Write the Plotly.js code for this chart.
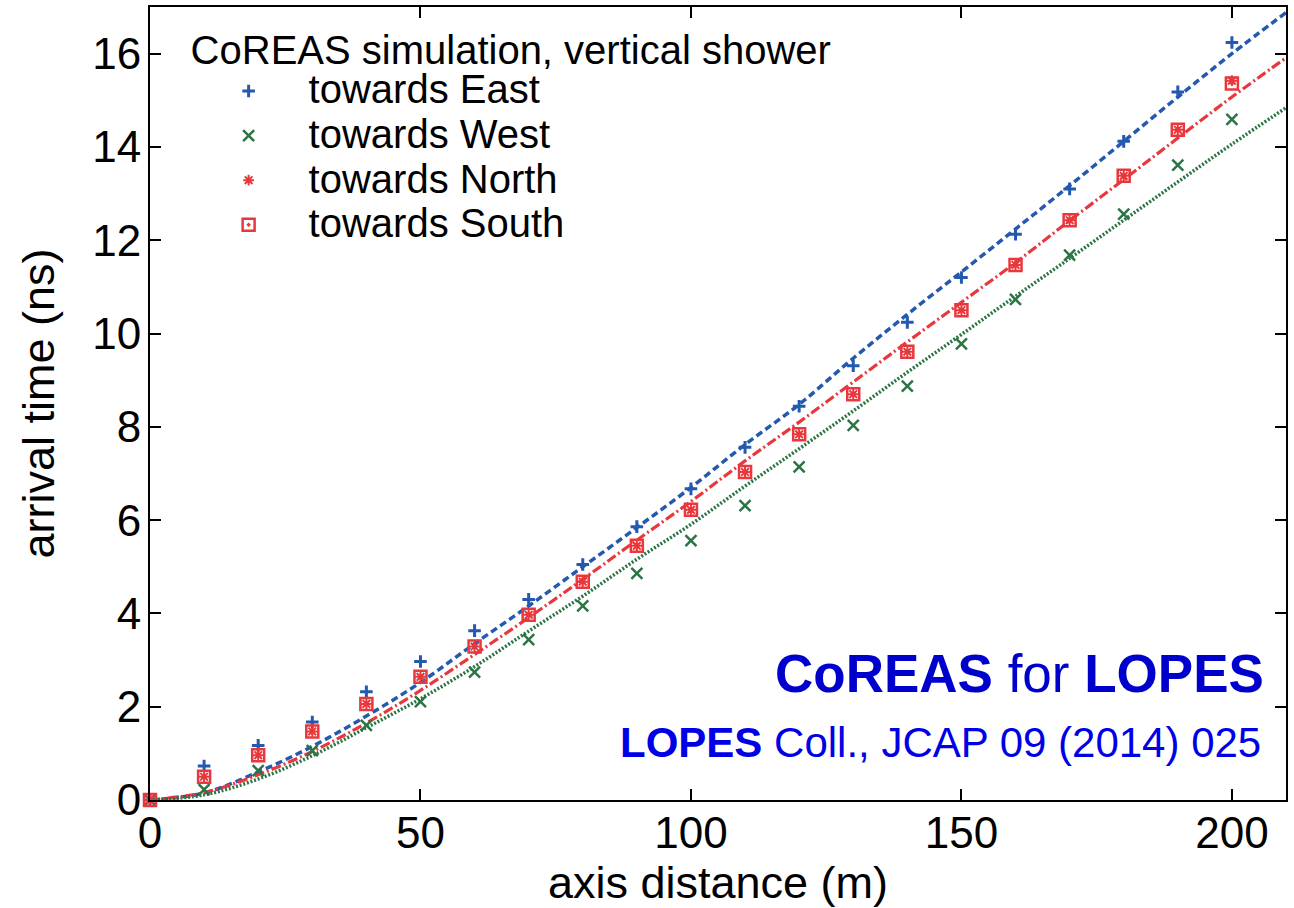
<!DOCTYPE html>
<html>
<head>
<meta charset="utf-8">
<script src="https://cdn.plot.ly/plotly-3.0.1.min.js"></script>
<style>
  html, body { margin: 0; padding: 0; background: #ffffff; }
  #chart { width: 1294px; height: 908px; }
</style>
</head>
<body>
<div id="chart"></div>
<script>
// ---- data ----
const distances = [0, 10, 20, 30, 40, 50, 60, 70, 80, 90, 100, 110, 120, 130, 140, 150, 160, 170, 180, 190, 200];

const eastTimes  = [0, 0.73, 1.17, 1.67, 2.32, 2.97, 3.63, 4.30, 5.05, 5.86, 6.67, 7.56, 8.44, 9.31, 10.24, 11.20, 12.13, 13.10, 14.12, 15.18, 16.24];
const westTimes  = [0, 0.22, 0.63, 1.06, 1.60, 2.11, 2.74, 3.44, 4.16, 4.86, 5.56, 6.31, 7.14, 8.03, 8.87, 9.78, 10.73, 11.68, 12.56, 13.61, 14.59];
const northTimes = [0, 0.50, 0.96, 1.47, 2.06, 2.64, 3.29, 3.97, 4.68, 5.45, 6.22, 7.03, 7.84, 8.70, 9.61, 10.50, 11.47, 12.43, 13.38, 14.37, 15.42];
const southTimes = [0, 0.50, 0.96, 1.47, 2.06, 2.64, 3.29, 3.97, 4.68, 5.45, 6.22, 7.03, 7.84, 8.70, 9.61, 10.50, 11.47, 12.43, 13.38, 14.37, 15.36];

// fitted curves
const fitDistances = [0, 10, 20, 30, 40, 50, 60, 70, 80, 90, 100, 110, 120, 130, 140, 150, 160, 170, 180, 190, 200, 210];
const eastFit  = [0, 0.15, 0.60, 1.15, 1.80, 2.52, 3.35, 4.16, 5.00, 5.84, 6.70, 7.62, 8.48, 9.47, 10.41, 11.32, 12.24, 13.17, 14.12, 15.07, 16.00, 16.88];
const nsFit    = [0, 0.16, 0.54, 1.04, 1.65, 2.35, 3.12, 3.91, 4.73, 5.57, 6.40, 7.27, 8.10, 8.96, 9.82, 10.67, 11.52, 12.42, 13.30, 14.19, 15.07, 15.91];
const westFit  = [0, 0.11, 0.45, 0.95, 1.55, 2.17, 2.86, 3.62, 4.37, 5.16, 5.91, 6.73, 7.53, 8.34, 9.17, 9.98, 10.80, 11.61, 12.43, 13.25, 14.06, 14.84];

const seriesNames = ['towards East', 'towards West', 'towards North', 'towards South'];
const legendTitle = 'CoREAS simulation, vertical shower';
const xTicks = [0, 50, 100, 150, 200];
const yTicks = [0, 2, 4, 6, 8, 10, 12, 14, 16];

// ---- styles ----
const BLUE = '#2459b0';
const GREEN = '#2b7443';
const RED = '#e8383d';
const FONT = 'Liberation Sans, Arial, Helvetica, sans-serif';
const big = s => '<span style="font-size:40px">' + s + '</span>';

const traces = [
  { x: fitDistances, y: eastFit, mode: 'lines', showlegend: false, hoverinfo: 'skip',
    line: { color: BLUE, width: 3.5, dash: '7px,4px', shape: 'spline' } },
  { x: fitDistances, y: nsFit, mode: 'lines', showlegend: false, hoverinfo: 'skip',
    line: { color: RED, width: 3.2, dash: '10px,3px,2px,3px', shape: 'spline' } },
  { x: fitDistances, y: westFit, mode: 'lines', showlegend: false, hoverinfo: 'skip',
    line: { color: GREEN, width: 3.5, dash: '2px,1.8px', shape: 'spline' } },

  { x: distances, y: eastTimes, mode: 'markers', name: big(seriesNames[0]), cliponaxis: false,
    marker: { symbol: 'cross-thin-open', size: 9, color: BLUE, line: { color: BLUE, width: 3 } } },
  { x: distances, y: westTimes, mode: 'markers', name: big(seriesNames[1]), cliponaxis: false,
    marker: { symbol: 'x-thin-open', size: 11, color: GREEN, line: { color: GREEN, width: 2.5 } } },
  { x: distances, y: northTimes, mode: 'markers', name: big(seriesNames[2]), cliponaxis: false,
    marker: { symbol: 'asterisk-open', size: 9, color: RED, line: { color: RED, width: 2 } } },
  { x: distances, y: southTimes, mode: 'markers', name: big(seriesNames[3]), cliponaxis: false,
    marker: { symbol: 'square-open-dot', size: 12, color: RED, line: { color: RED, width: 2.5 } } }
];

const axisCommon = {
  showline: true, linecolor: '#000', linewidth: 2, mirror: 'ticks',
  ticks: 'inside', ticklen: 11, tickwidth: 2, tickcolor: '#000',
  showgrid: false, zeroline: false,
  tickfont: { family: FONT, size: 44, color: '#000' }
};

const layout = {
  width: 1294, height: 908,
  margin: { l: 150, r: 8, t: 7, b: 108 },
  paper_bgcolor: '#fff', plot_bgcolor: '#fff',
  font: { family: FONT, color: '#000' },
  xaxis: Object.assign({}, axisCommon, {
    range: [0, 210], tickmode: 'array', tickvals: xTicks, ticktext: xTicks.map(String),
    ticklabelstandoff: -7,
    title: { text: 'axis distance (m)', font: { family: FONT, size: 45, color: '#000' }, standoff: 14 }
  }),
  yaxis: Object.assign({}, axisCommon, {
    range: [0, 17], tickmode: 'array', tickvals: yTicks, ticktext: yTicks.map(String),
    ticklabelstandoff: -2,
    title: { text: 'arrival time (ns)', font: { family: FONT, size: 45, color: '#000' }, standoff: 23 }
  }),
  legend: {
    x: 0.034, y: 0.981, xanchor: 'left', yanchor: 'top',
    bgcolor: 'rgba(0,0,0,0)', borderwidth: 0,
    font: { family: FONT, size: 32, color: '#000' },
    itemwidth: 110,
    title: { text: big(legendTitle), font: { family: FONT, size: 32, color: '#000' } },
    traceorder: 'normal'
  },
  annotations: [
    { xref: 'paper', yref: 'paper', x: 0.982, y: 0.16, xanchor: 'right', yanchor: 'middle',
      showarrow: false, text: '<b>CoREAS</b> for <b>LOPES</b>',
      font: { family: FONT, size: 53, color: '#0000cc' } },
    { xref: 'paper', yref: 'paper', x: 0.98, y: 0.072, xanchor: 'right', yanchor: 'middle',
      showarrow: false, text: '<b>LOPES</b> Coll., JCAP 09 (2014) 025',
      font: { family: FONT, size: 42, color: '#0000e6' } }
  ]
};

Plotly.newPlot('chart', traces, layout, { displayModeBar: false, staticPlot: true });
</script>
</body>
</html>
